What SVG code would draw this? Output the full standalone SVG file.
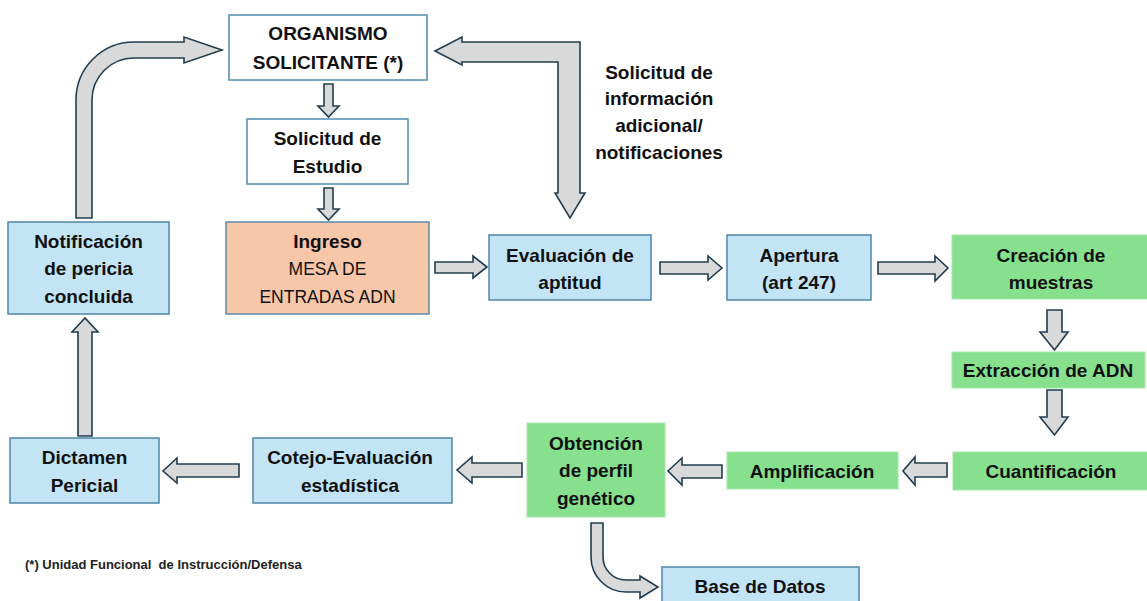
<svg xmlns="http://www.w3.org/2000/svg" width="1147" height="601" viewBox="0 0 1147 601">
<style>
.t{font-family:"Liberation Sans",Arial,sans-serif;font-size:19px;font-weight:bold;fill:#111;text-anchor:middle}
.r{font-weight:normal;font-size:17.5px}
.w{fill:#fff;stroke:#4f8cae;stroke-width:1.5}
.b{fill:#c2e4f5;stroke:#4f86a8;stroke-width:1.5}
.p{fill:#f8c6a8;stroke:#5b8aa8;stroke-width:1.5}
.g{fill:#87e08e;stroke:#a3e8a8;stroke-width:1}
.a{fill:#d9d9d9;stroke:#223d4f;stroke-width:1.6;stroke-linejoin:miter}
.f{font-family:"Liberation Sans",Arial,sans-serif;font-size:13px;font-weight:bold;fill:#222}
</style>
<rect width="1147" height="601" fill="#fff"/>
<g id="connectors">
<path class="a" d="M76,218 L76,100 A58,58 0 0 1 134,42 L184,42 L184,37 L222,50 L184,63 L184,58 L134,58 A42,42 0 0 0 92,100 L92,218 Z"/>
<path class="a" d="M435,51 L462,37 L462,42 L580,42 L580,193 L585,193 L570,218 L555,193 L558,193 L558,62 L462,62 L462,65 Z"/>
<path class="a" d="M324,84 L333,84 L333,106 L339,106 L328.5,117 L318,106 L324,106 Z"/>
<path class="a" d="M324,188 L333,188 L333,209 L339,209 L328.5,220 L318,209 L324,209 Z"/>
<path class="a" d="M435,262 L473,262 L473,256 L487,267 L473,278 L473,273 L435,273 Z"/>
<path class="a" d="M660,262 L708,262 L708,256 L722,268 L708,280 L708,274 L660,274 Z"/>
<path class="a" d="M878,262 L935,262 L935,256 L948,268 L935,281 L935,274 L878,274 Z"/>
<path class="a" d="M1047,310 L1062,310 L1062,332 L1068,332 L1054.5,350 L1040,332 L1047,332 Z"/>
<path class="a" d="M1047,390 L1062,390 L1062,417 L1068,417 L1054.5,435 L1040,417 L1047,417 Z"/>
<path class="a" d="M947,463 L915,463 L915,457 L903,471 L915,485 L915,477 L947,477 Z"/>
<path class="a" d="M722,465 L682,465 L682,458 L668,471 L682,485 L682,478 L722,478 Z"/>
<path class="a" d="M522,463 L472,463 L472,457 L457,470 L472,483 L472,477 L522,477 Z"/>
<path class="a" d="M239,464 L177,464 L177,458 L163,471 L177,483 L177,477 L239,477 Z"/>
<path class="a" d="M78,436 L78,332 L72,332 L85,318 L98,332 L92,332 L92,436 Z"/>
<path class="a" d="M591,523 L603,523 L603,557 A23,23 0 0 0 626,580 L640,580 L640,576 L658,587 L640,598 L640,592 L626,592 A35,35 0 0 1 591,557 Z"/>
</g>
<g id="organismo"><rect class="w" x="229" y="15" width="198" height="65"/><text class="t" x="328" y="40">ORGANISMO</text><text class="t" x="328" y="69">SOLICITANTE (*)</text></g>
<g id="solicitud"><rect class="w" x="247" y="119" width="161" height="65"/><text class="t" x="327.5" y="145">Solicitud de</text><text class="t" x="327.5" y="173">Estudio</text></g>
<g id="label-info"><text class="t" x="659" y="79">Solicitud de</text><text class="t" x="659" y="105">información</text><text class="t" x="659" y="132">adicional/</text><text class="t" x="659" y="159">notificaciones</text></g>
<g id="notificacion"><rect class="b" x="8" y="222" width="161" height="92"/><text class="t" x="88.5" y="248">Notificación</text><text class="t" x="88.5" y="275">de pericia</text><text class="t" x="88.5" y="303">concluida</text></g>
<g id="ingreso"><rect class="p" x="226" y="222" width="203" height="92"/><text class="t" x="327.5" y="248">Ingreso</text><text class="t r" x="327.5" y="275">MESA DE</text><text class="t r" x="327.5" y="303">ENTRADAS ADN</text></g>
<g id="evaluacion"><rect class="b" x="489" y="235" width="162" height="65"/><text class="t" x="570" y="262">Evaluación de</text><text class="t" x="570" y="289">aptitud</text></g>
<g id="apertura"><rect class="b" x="727" y="235" width="144" height="65"/><text class="t" x="799" y="262">Apertura</text><text class="t" x="799" y="289">(art 247)</text></g>
<g id="creacion"><rect class="g" x="952" y="235" width="196" height="64"/><text class="t" x="1051" y="262">Creación de</text><text class="t" x="1051" y="289">muestras</text></g>
<g id="extraccion"><rect class="g" x="952" y="352" width="193" height="36"/><text class="t" x="1048" y="377">Extracción de ADN</text></g>
<g id="cuantificacion"><rect class="g" x="953" y="452" width="195" height="38"/><text class="t" x="1051" y="478">Cuantificación</text></g>
<g id="amplificacion"><rect class="g" x="727" y="452" width="171" height="37"/><text class="t" x="812" y="478">Amplificación</text></g>
<g id="obtencion"><rect class="g" x="527" y="423" width="138" height="94"/><text class="t" x="596" y="450">Obtención</text><text class="t" x="596" y="477">de perfil</text><text class="t" x="596" y="505">genético</text></g>
<g id="cotejo"><rect class="b" x="253" y="438" width="199" height="65"/><text class="t" x="350" y="464">Cotejo-Evaluación</text><text class="t" x="350" y="492">estadística</text></g>
<g id="dictamen"><rect class="b" x="10" y="438" width="149" height="65"/><text class="t" x="84.5" y="464">Dictamen</text><text class="t" x="84.5" y="492">Pericial</text></g>
<g id="base-datos"><rect class="b" x="662" y="567" width="197" height="40"/><text class="t" x="760" y="593">Base de Datos</text></g>
<text class="f" x="25" y="569" xml:space="preserve">(*) Unidad Funcional  de Instrucción/Defensa</text>
</svg>
